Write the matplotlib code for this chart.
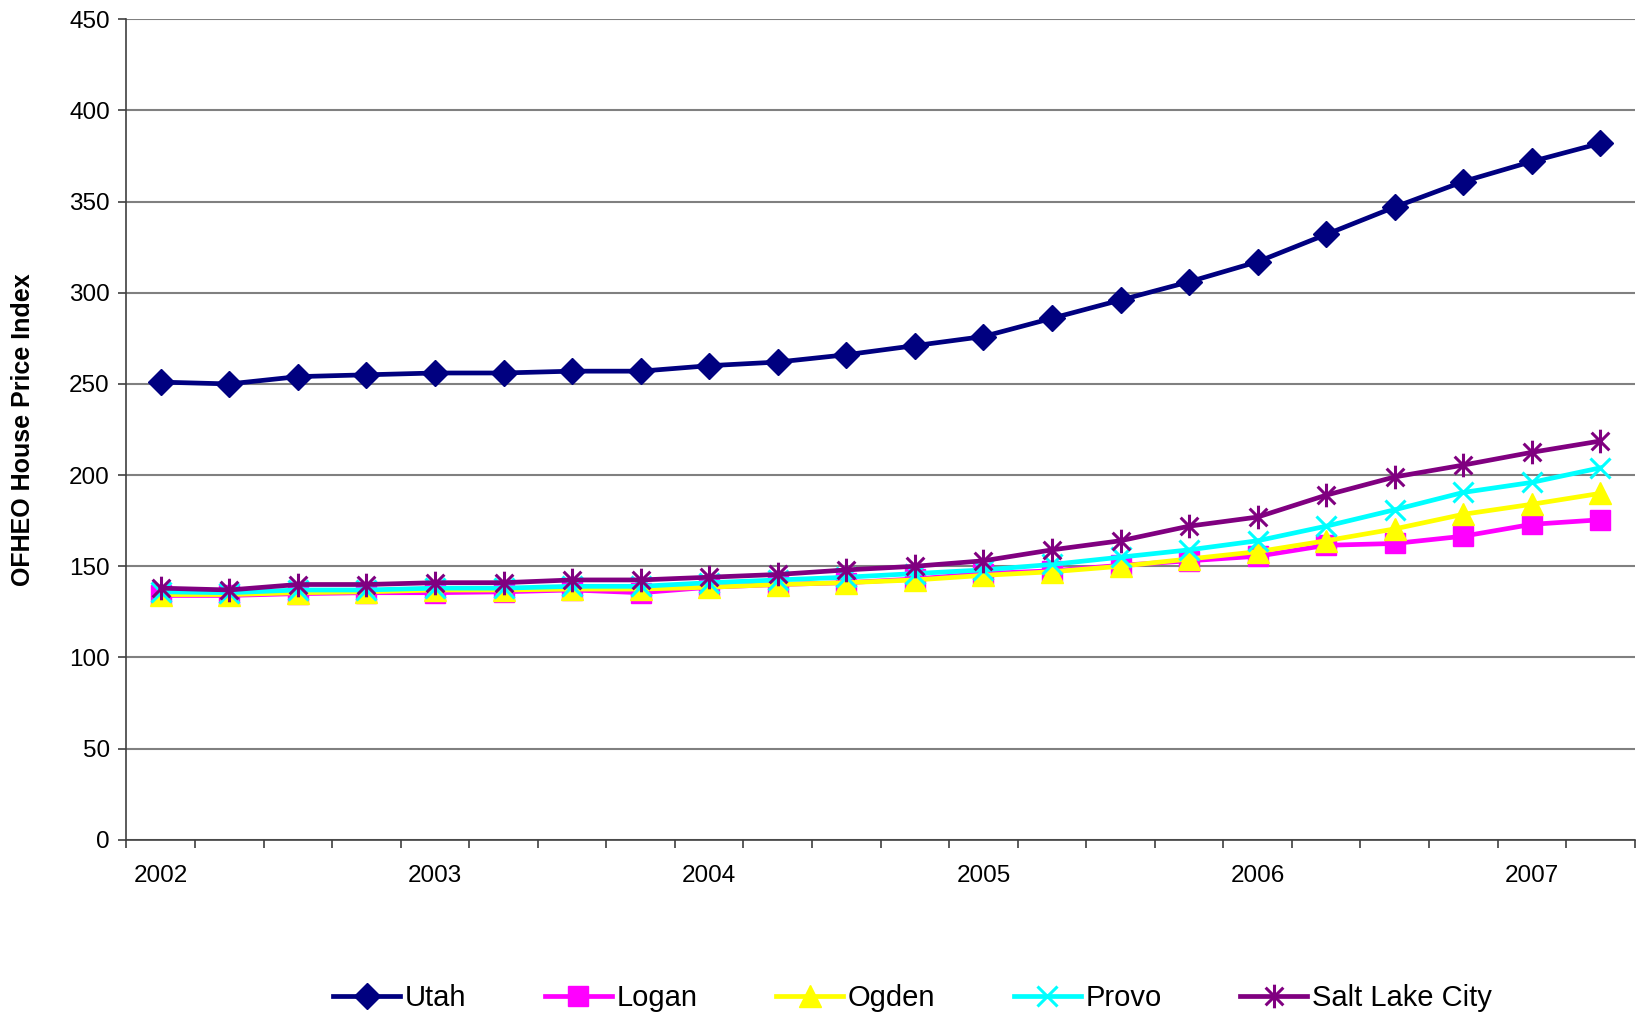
import numpy as np
import matplotlib.pyplot as plt
from matplotlib.path import Path

plt.rcParams['font.family'] = ['Liberation Sans', 'DejaVu Sans']

# quarterly OFHEO index, 2002 Q1 .. 2007 Q2
years = ['2002', '2003', '2004', '2005', '2006', '2007']
utah = [251, 250, 254, 255, 256, 256, 257, 257, 260, 262, 266, 271,
        276, 286, 296, 306, 317, 332, 347, 361, 372, 382]
logan = [134, 134, 135, 135.5, 135.5, 136, 137, 135.5, 138.5, 140, 141, 143,
         146, 147.5, 150.5, 153, 155.5, 161.5, 162.5, 166.5, 173, 175.5]
ogden = [134.5, 134.5, 135.5, 136, 137, 137, 137.5, 137.5, 138.5, 140, 141, 142.5,
         145, 147, 150, 154, 158, 164, 170.5, 178.5, 184, 190]
provo = [136, 135.5, 137, 137, 138, 138, 139, 139, 141, 142.5, 144, 146,
         148, 151, 155, 159, 164, 172, 181, 190.5, 196, 204]
slc = [138, 137, 140, 140, 141, 141, 142.5, 142.5, 144, 145.5, 148, 150,
       153, 159, 164, 172, 177, 189, 199, 205.5, 212.5, 218.7]

# excel-style star: vertical bar plus an x
star = Path([(0, -1), (0, 1), (-0.75, -0.75), (0.75, 0.75), (-0.75, 0.75), (0.75, -0.75)],
            [Path.MOVETO, Path.LINETO, Path.MOVETO, Path.LINETO, Path.MOVETO, Path.LINETO])

series = [
    ('Utah', utah, '#000080', 'D', 13, 'full'),
    ('Logan', logan, '#FF00FF', 's', 14, 'full'),
    ('Ogden', ogden, '#FFFF00', '^', 16, 'full'),
    ('Provo', provo, '#00FFFF', 'x', 15, 'line'),
    ('Salt Lake City', slc, '#800080', star, 17, 'line'),
]

fig = plt.figure(figsize=(16.38, 10.13), dpi=100)
ax = fig.add_axes([0.0772, 0.171, 0.9208, 0.810])

x = np.arange(len(utah))
for name, vals, col, mk, ms, kind in series:
    if kind == 'full':
        ax.plot(x, vals, color=col, lw=3.4, marker=mk, ms=ms,
                mfc=col, mec=col, label=name)
    else:
        ax.plot(x, vals, color=col, lw=3.4, marker=mk, ms=ms,
                mec=col, mew=2.2, label=name)

ax.set_xlim(-0.5, len(utah) - 0.5)
ax.set_ylim(0, 450)
ax.set_yticks(np.arange(0, 451, 50))
ax.grid(axis='y', color='#808080', lw=1.5)
ax.set_axisbelow(True)

ax.set_xticks(np.arange(0, len(utah), 4))
ax.set_xticklabels(years)
ax.set_xticks(np.arange(-0.5, len(utah), 1), minor=True)
ax.tick_params(axis='x', which='major', length=0, pad=18, labelsize=17.5)
ax.tick_params(axis='x', which='minor', length=6, width=1.2, color='#404040')
ax.tick_params(axis='y', length=6, width=1.2, color='#404040', pad=6, labelsize=17.5)

for s in ['top', 'right']:
    ax.spines[s].set_visible(False)
for s in ['left', 'bottom']:
    ax.spines[s].set_color('#404040')
    ax.spines[s].set_linewidth(1.2)

fig.text(0.014, 0.576, 'OFHEO House Price Index', rotation=90, fontsize=18,
         fontweight='bold', ha='center', va='center')

fig.legend(loc='center', bbox_to_anchor=(0.557, 0.015), ncol=5, frameon=False,
           fontsize=21, handlelength=2.3, handletextpad=0.15, columnspacing=2.7)

fig.savefig('out.png')
